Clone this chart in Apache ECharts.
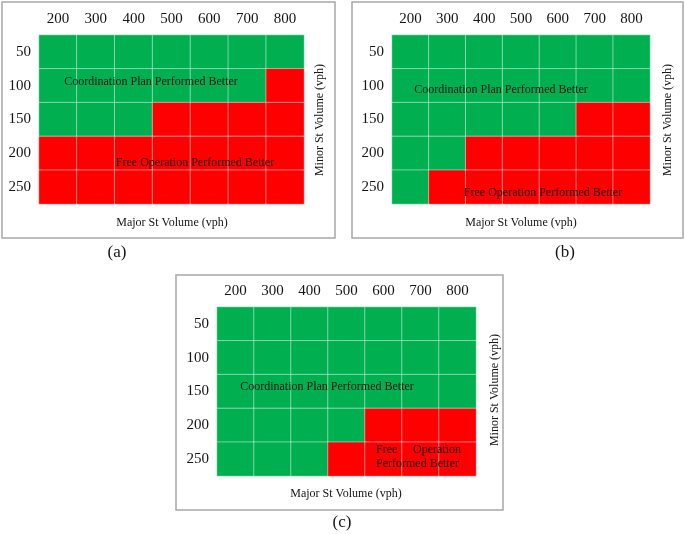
<!DOCTYPE html>
<html>
<head>
<meta charset="utf-8">
<script src="https://cdn.jsdelivr.net/npm/echarts@6/dist/echarts.min.js"></script>
<style>
html,body{margin:0;padding:0;background:#fff;}
#chart{width:685px;height:534px;}
</style>
</head>
<body>
<div id="chart"></div>
<script>
// Category labels
const majorVolumes = ['200', '300', '400', '500', '600', '700', '800'];
const minorVolumes = ['50', '100', '150', '200', '250'];
// 1 = Coordination Plan Performed Better (green), 0 = Free Operation Performed Better (red)
// rows = minor volume (50..250), columns = major volume (200..800)
const panelA = [
  [1, 1, 1, 1, 1, 1, 1],
  [1, 1, 1, 1, 1, 1, 0],
  [1, 1, 1, 0, 0, 0, 0],
  [0, 0, 0, 0, 0, 0, 0],
  [0, 0, 0, 0, 0, 0, 0]
];
const panelB = [
  [1, 1, 1, 1, 1, 1, 1],
  [1, 1, 1, 1, 1, 1, 1],
  [1, 1, 1, 1, 1, 0, 0],
  [1, 1, 0, 0, 0, 0, 0],
  [1, 0, 0, 0, 0, 0, 0]
];
const panelC = [
  [1, 1, 1, 1, 1, 1, 1],
  [1, 1, 1, 1, 1, 1, 1],
  [1, 1, 1, 1, 1, 1, 1],
  [1, 1, 1, 1, 0, 0, 0],
  [1, 1, 1, 0, 0, 0, 0]
];
const panelCaptions = ['(a)', '(b)', '(c)'];
const majorTitle = 'Major St Volume (vph)';
const minorTitle = 'Minor St Volume (vph)';
const coordText = 'Coordination Plan Performed Better';
const freeText = 'Free Operation Performed Better';

const FONT = '"Liberation Serif", "Times New Roman", serif';
const GREEN = '#00b050';
const RED = '#ff0000';
const TXT = '#151515';

function toCells(m) {
  const out = [];
  m.forEach((row, yi) => row.forEach((v, xi) => out.push([xi, yi, v])));
  return out;
}

const panels = [
  {data: panelA, grid: {left: 39, top: 35, width: 265, height: 169}},
  {data: panelB, grid: {left: 392, top: 35, width: 258, height: 169}},
  {data: panelC, grid: {left: 217, top: 307, width: 259, height: 169}}
];

const grids = [], xAxes = [], yAxes = [], series = [];
panels.forEach((p, i) => {
  grids.push(Object.assign({containLabel: false}, p.grid));
  xAxes.push({
    type: 'category', gridIndex: i, position: 'top', data: majorVolumes,
    axisLine: {show: false}, axisTick: {show: false}, splitLine: {show: false},
    axisLabel: {fontFamily: FONT, fontSize: 15, color: TXT, margin: 8}
  });
  yAxes.push({
    type: 'category', gridIndex: i, inverse: true, data: minorVolumes,
    axisLine: {show: false}, axisTick: {show: false}, splitLine: {show: false},
    axisLabel: {fontFamily: FONT, fontSize: 15, color: TXT, margin: 8}
  });
  series.push({
    type: 'heatmap', xAxisIndex: i, yAxisIndex: i, data: toCells(p.data),
    itemStyle: {borderColor: 'rgba(255,255,255,0.45)', borderWidth: 1},
    emphasis: {disabled: true}, silent: true
  });
});

function txt(x, y, text, opts) {
  return Object.assign({
    type: 'text', x: x, y: y, silent: true, z: 100,
    style: Object.assign({
      text: text, fill: TXT, font: '12px ' + FONT,
      textAlign: 'center', textVerticalAlign: 'middle'
    }, (opts && opts.style) || {})
  }, opts && opts.rotation !== undefined ? {rotation: opts.rotation} : {});
}

const frames = [
  {x: 2, y: 2, w: 333, h: 236},
  {x: 352, y: 2, w: 331, h: 236},
  {x: 176, y: 275, w: 327, h: 235}
];

const graphics = [];
frames.forEach(f => graphics.push({
  type: 'rect', silent: true, z: 0,
  shape: {x: f.x, y: f.y, width: f.w, height: f.h},
  style: {fill: 'none', stroke: '#a8a8a8', lineWidth: 1.5}
}));

// axis titles
graphics.push(txt(172, 223, majorTitle));
graphics.push(txt(521, 223, majorTitle));
graphics.push(txt(346, 494, majorTitle));
graphics.push(txt(320, 120, minorTitle, {rotation: Math.PI / 2}));
graphics.push(txt(668, 120, minorTitle, {rotation: Math.PI / 2}));
graphics.push(txt(495, 390, minorTitle, {rotation: Math.PI / 2}));
// captions
graphics.push(txt(117, 253, panelCaptions[0], {style: {font: '17px ' + FONT}}));
graphics.push(txt(565, 253, panelCaptions[1], {style: {font: '17px ' + FONT}}));
graphics.push(txt(342, 523, panelCaptions[2], {style: {font: '17px ' + FONT}}));
// region annotations
graphics.push(txt(151, 82, coordText));
graphics.push(txt(195, 163, freeText));
graphics.push(txt(501, 90, coordText));
graphics.push(txt(543, 193, freeText));
graphics.push(txt(327, 387, coordText));
graphics.push(txt(376, 450, 'Free', {style: {textAlign: 'left'}}));
graphics.push(txt(461, 450, 'Operation', {style: {textAlign: 'right'}}));
graphics.push(txt(376, 464, 'Performed Better', {style: {textAlign: 'left'}}));

const chart = echarts.init(document.getElementById('chart'), null, {renderer: 'canvas'});
chart.setOption({
  animation: false,
  backgroundColor: '#ffffff',
  grid: grids,
  xAxis: xAxes,
  yAxis: yAxes,
  visualMap: {
    type: 'piecewise', show: false, seriesIndex: [0, 1, 2], dimension: 2,
    pieces: [{value: 0, color: RED}, {value: 1, color: GREEN}]
  },
  series: series,
  graphic: graphics
});
</script>
</body>
</html>
